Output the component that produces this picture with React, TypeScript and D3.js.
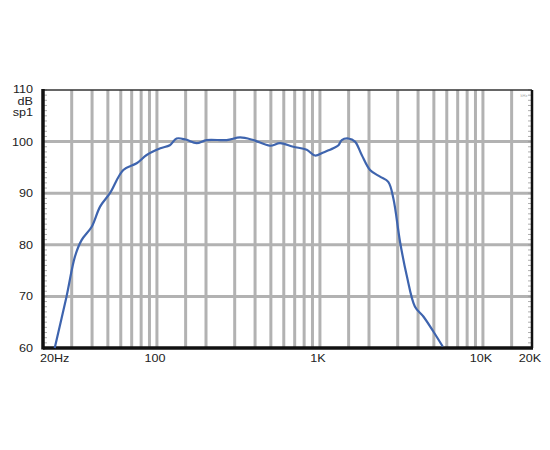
import React from "react";
import * as d3 from "d3";

// frequency response
const freqs = [23.6, 27.9, 31.4, 34.5, 39.8, 44.8, 51.5, 62.2, 75.1, 86.5, 105, 120, 132, 150, 175, 202, 268, 324, 390, 494, 569, 687, 830, 933, 1049, 1208, 1300, 1361, 1493, 1641, 1805, 2029, 2337, 2625, 2820, 3100, 3405, 3830, 4310, 4963, 5665];
const levels = [60, 70, 77.7, 80.9, 83.5, 87.4, 90, 94.5, 95.8, 97.4, 98.7, 99.3, 100.6, 100.4, 99.7, 100.3, 100.3, 100.8, 100.3, 99.2, 99.7, 99.0, 98.4, 97.3, 97.9, 98.7, 99.3, 100.3, 100.6, 100.0, 97.4, 94.5, 93.2, 92.2, 89.0, 80.6, 74.1, 68.0, 66.1, 63.2, 60.3];

const yTicks = [60, 70, 80, 90, 100];
const gridFreqs = [30, 40, 50, 60, 70, 80, 90, 100, 150, 200, 300, 400, 500, 600, 700, 800, 900, 1000, 1500, 2000, 3000, 4000, 5000, 6000, 7000, 8000, 9000, 10000, 15000];
const xLabelValues = [20, 100, 1000, 10000, 20000];
const xLabelTexts = ["20Hz", "100", "1K", "10K", "20K"];
const unitLabels = ["110", "dB", "sp1"];

const left = 43, right = 532, top = 90, bottom = 348;

// labels in the original are a little wide for their height
const Label = ({ x, y, anchor, children }: { x: number; y: number; anchor: string; children: React.ReactNode }) => (
	<text transform={`translate(${x},${y}) scale(1.2,1)`} textAnchor={anchor}>{children}</text>
);

export default function App() {
	const x = d3.scaleLog().domain([20, 20000]).range([left, right]);
	const y = d3.scaleLinear().domain([60, 110]).range([bottom, top]);

	const pts: [number, number][] = freqs.map((f, i) => [f, levels[i]]);
	const line = d3
		.line<[number, number]>()
		.x((d) => x(d[0]))
		.y((d) => y(d[1]))
		.curve(d3.curveCatmullRom.alpha(0.5));

	const minor = d3.range(60, 111, 1);

	return (
		<svg width={550} height={450} style={{ display: "block", position: "absolute", left: 0, top: 0 }}
			fontFamily="'Liberation Sans', Arial, sans-serif" fontSize={10.5} fill="#222">
			<rect width={550} height={450} fill="#fff" />

			{/* grid */}
			{gridFreqs.map((f) => (
				<line key={"v" + f} x1={x(f)} x2={x(f)} y1={top} y2={bottom} stroke="#b2b2b2" strokeWidth={3} />
			))}
			{yTicks.slice(1).map((v) => (
				<line key={"h" + v} x1={left} x2={right} y1={y(v)} y2={y(v)} stroke="#b2b2b2" strokeWidth={3} />
			))}

			{/* small ticks on left / right borders */}
			{minor.map((v) => (
				<g key={"m" + v}>
					<line x1={left + 1} x2={left + 4} y1={y(v)} y2={y(v)} stroke="#999" strokeWidth={0.8} />
					<line x1={right - 4} x2={right - 1} y1={y(v)} y2={y(v)} stroke="#999" strokeWidth={0.8} />
				</g>
			))}

			{/* frame */}
			<line x1={left} x2={right} y1={top} y2={top} stroke="#333" strokeWidth={1.5} />
			<line x1={right} x2={right} y1={top} y2={bottom} stroke="#111" strokeWidth={2.5} />
			<line x1={left} x2={left} y1={top - 1} y2={bottom + 1.5} stroke="#111" strokeWidth={3.5} />
			<line x1={left} x2={right + 1} y1={bottom} y2={bottom} stroke="#111" strokeWidth={3.5} />
			<text x={524} y={97} fontSize={4} fill="#aaa" textAnchor="middle">kHz</text>

			{/* response curve */}
			<path d={line(pts) || ""} fill="none" stroke="#3e64ae" strokeWidth={2.2} strokeLinejoin="round" />

			{/* y labels */}
			{yTicks.map((v) => (
				<Label key={"yl" + v} x={33} y={y(v) + 4} anchor="end">{v}</Label>
			))}
			{unitLabels.map((t, i) => (
				<Label key={t} x={33} y={93 + i * 11.5} anchor="end">{t}</Label>
			))}

			{/* x labels */}
			{xLabelValues.map((f, i) => (
				<Label key={"xl" + f} x={i === 0 ? x(f) - 3 : x(f) - 2}
					y={362} anchor={i === 0 ? "start" : "middle"}>{xLabelTexts[i]}</Label>
			))}
		</svg>
	);
}
